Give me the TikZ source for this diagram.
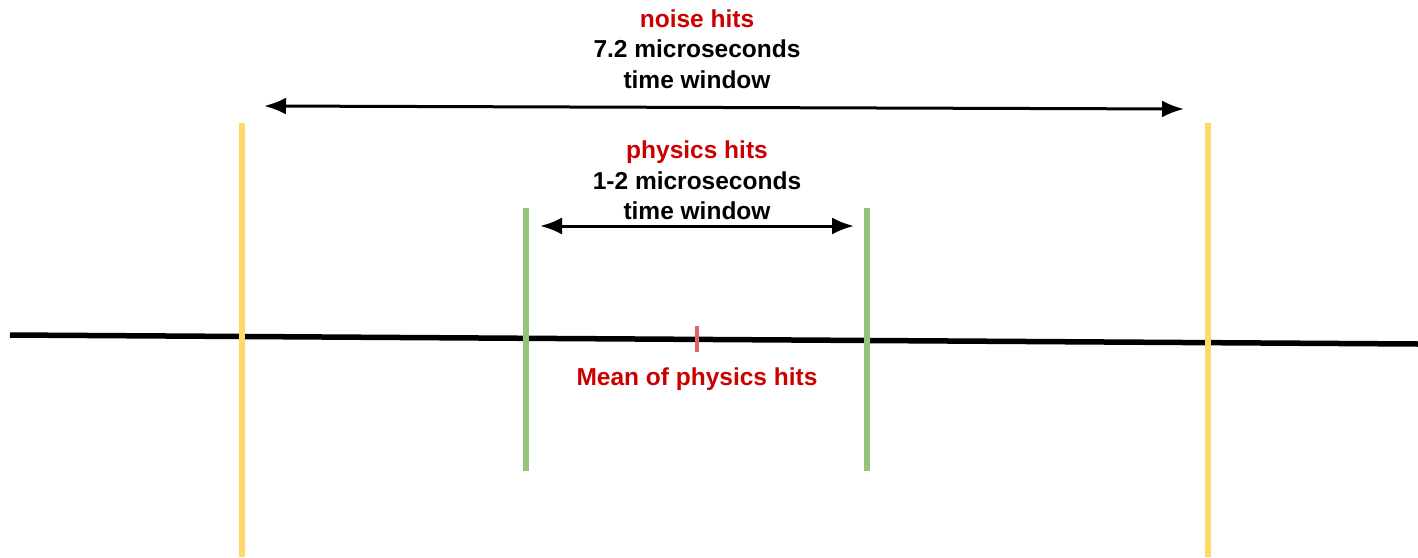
\documentclass[tikz,border=0pt]{standalone}
\usepackage{fontspec}
\setmainfont{Liberation Sans}
\usetikzlibrary{arrows.meta}
\definecolor{hitred}{HTML}{CC0000}
\definecolor{meanred}{HTML}{E06666}
\definecolor{noiseyellow}{HTML}{FFD966}
\definecolor{physgreen}{HTML}{93C47D}
\tikzset{
  label text/.style={font=\bfseries\fontsize{24.5}{30.5}\selectfont, align=center, inner sep=0pt},
  window/.style={line width=3pt, {Latex[length=22pt,width=17pt]}-{Latex[length=22pt,width=17pt]}},
  bound/.style={line width=6pt}
}
\begin{document}
\begin{tikzpicture}[x=1pt,y=-1pt]
	\useasboundingbox (0,0) rectangle (1418,557);
	% time axis
	\coordinate (axisL) at (10,335);
	\coordinate (axisR) at (1418,344);
	\draw[line width=5.5pt] (axisL) -- (axisR);
	% noise window bounds
	\coordinate (noiseLtop) at (242,123);
	\coordinate (noiseLbot) at (242,557);
	\coordinate (noiseRtop) at (1208,123);
	\coordinate (noiseRbot) at (1208,557);
	\draw[bound, noiseyellow] (noiseLtop) -- (noiseLbot);
	\draw[bound, noiseyellow] (noiseRtop) -- (noiseRbot);
	% physics window bounds
	\coordinate (physLtop) at (526,208);
	\coordinate (physLbot) at (526,471);
	\coordinate (physRtop) at (867,208);
	\coordinate (physRbot) at (867,471);
	\draw[bound, physgreen] (physLtop) -- (physLbot);
	\draw[bound, physgreen] (physRtop) -- (physRbot);
	% mean tick
	\coordinate (meanTop) at (697,326);
	\coordinate (meanBot) at (697,352);
	\draw[line width=4.5pt, meanred] (meanTop) -- (meanBot);
	% arrows
	\coordinate (noiseArrL) at (264,106);
	\coordinate (noiseArrR) at (1184,109);
	\draw[window] (noiseArrL) -- (noiseArrR);
	\coordinate (physArrL) at (540,226);
	\coordinate (physArrR) at (854,226);
	\draw[window] (physArrL) -- (physArrR);
	% labels
	\node[label text] (noiseLabel) at (697,49) {\textcolor{hitred}{noise hits}\\7.2 microseconds\\time window};
	\node[label text] (physLabel) at (697,180.5) {\textcolor{hitred}{physics hits}\\1-2 microseconds\\time window};
	\node[label text, text=hitred] (meanLabel) at (697,379) {Mean of physics hits};
\end{tikzpicture}
\end{document}
